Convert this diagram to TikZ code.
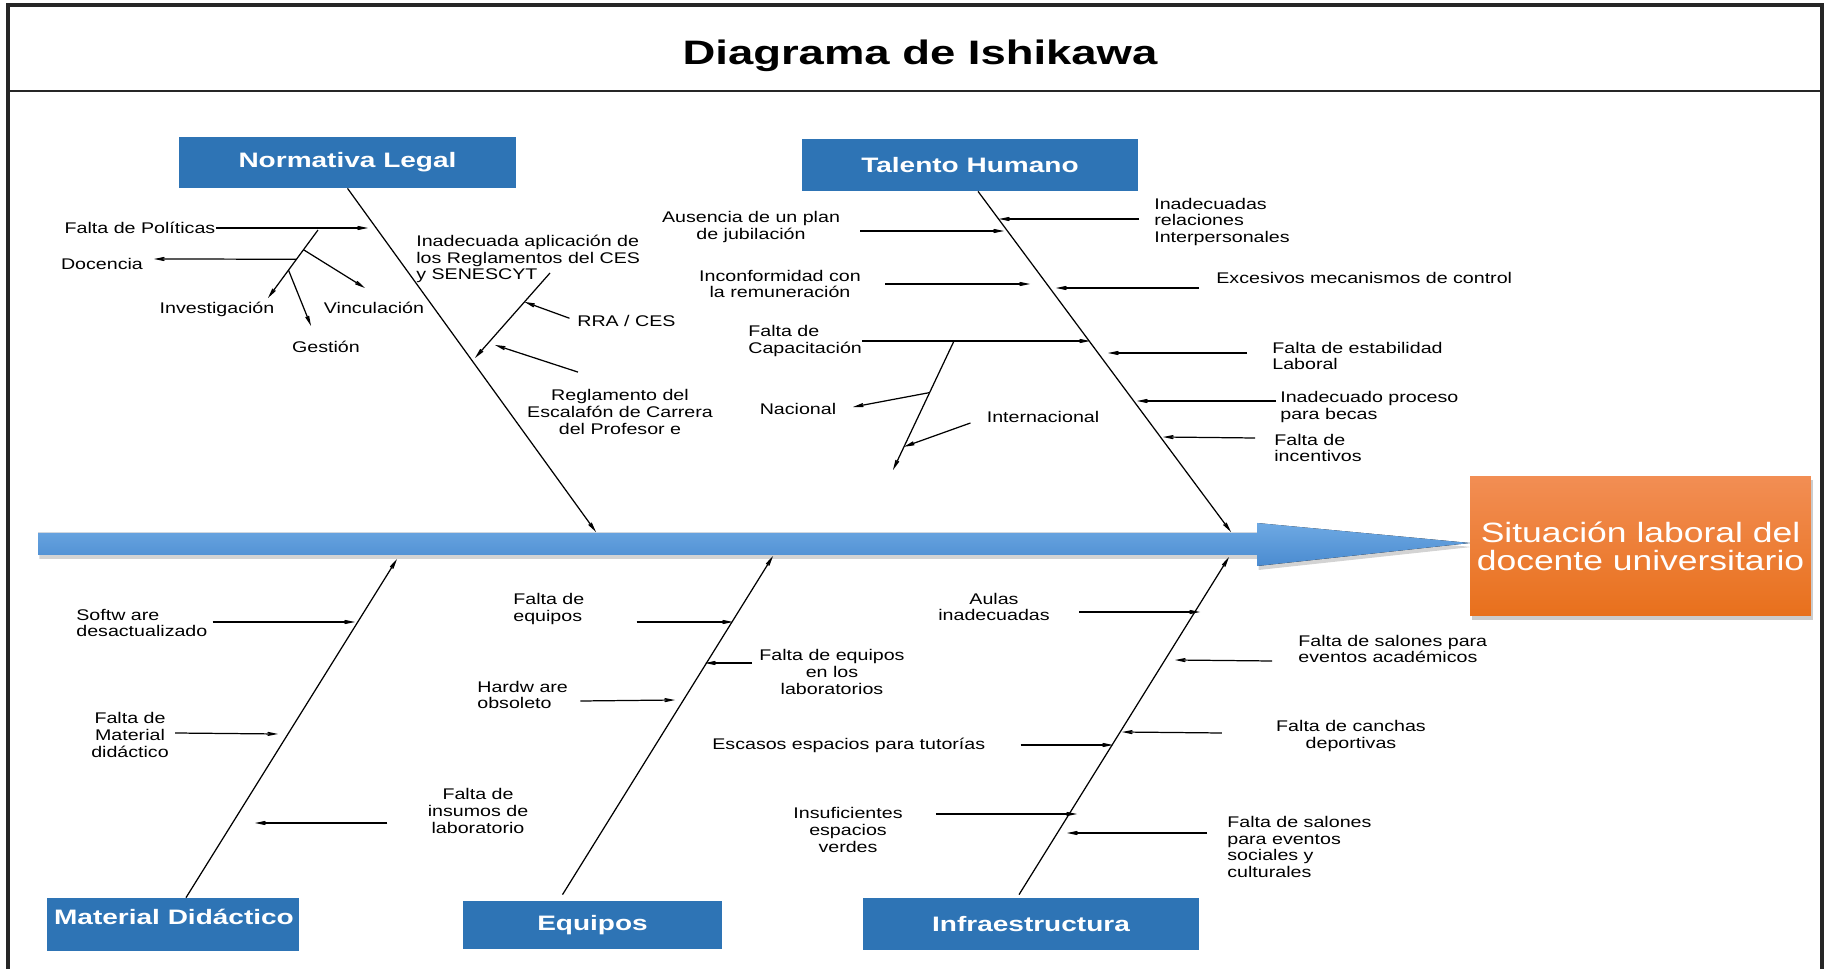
\documentclass[tikz,border=0pt]{standalone}
\usepackage{fontspec}
\setmainfont{Liberation Sans}
\newfontfamily\labelfont[FakeStretch=1.27]{Liberation Sans}
\newfontfamily\headfont[FakeStretch=1.34]{Liberation Sans}
\usepackage{xcolor}
\usepackage{tikz}
\usetikzlibrary{arrows.meta, calc, shadows}
\definecolor{boxblue}{HTML}{2E74B5}
\definecolor{spinetop}{HTML}{6EA9E3}
\definecolor{spinebot}{HTML}{4A8BD0}
\definecolor{effecttop}{HTML}{F28E54}
\definecolor{effectbot}{HTML}{E8701C}

\tikzset{
  causearrow/.style={line width=0.7pt, -{Stealth[length=0.36cm, width=0.15cm, inset=0.2cm]}},
  lbl/.style={font=\labelfont\fontsize{8.8}{9.6}\selectfont, inner sep=0pt, align=left},
  lblc/.style={lbl, align=center},
  catbox/.style={fill=boxblue, text=white, inner sep=0pt, font=\headfont\bfseries\fontsize{11.9}{14}\selectfont},
  effectbox/.style={top color=effecttop, bottom color=effectbot, text=white, align=center,
    minimum width=6.82cm, minimum height=2.8cm, inner sep=0pt,
    font=\labelfont\fontsize{15.9}{16.1}\selectfont,
    drop shadow={opacity=0.4, shadow xshift=0.04cm, shadow yshift=-0.08cm}},
}

\begin{document}
\begin{tikzpicture}[x=0.02cm, y=-0.02cm]
  \useasboundingbox (0,0) rectangle (1830,969);
  % frame and title
  \draw[line width=1.8pt, black!85] (8,969) -- (8,5) -- (1822,5) -- (1822,969);
  \draw[line width=1.5pt, black!85] (8,91) -- (1822,91);
  \node[font=\headfont\bfseries\fontsize{19.3}{22}\selectfont, inner sep=0pt] (title) at (920,56) {Diagrama de Ishikawa};

  % spine
  \fill[top color=spinetop, bottom color=spinebot, drop shadow={opacity=0.35, shadow xshift=0.03cm, shadow yshift=-0.08cm}]
    (38,533) -- (1257,533) -- (1257,523) -- (1470,543) -- (1257,566) -- (1257,555) -- (38,555) -- cycle;

  % effect and categories
  \node[effectbox] (sit) at (1640.5,546) {Situación laboral del\\docente universitario};
  \node[catbox, minimum width=6.74cm, minimum height=1.02cm] (nl) at (347.5,162.5) {Normativa Legal};
  \node[catbox, minimum width=6.72cm, minimum height=1.04cm] (th) at (970,165) {Talento Humano};
  \node[catbox, minimum width=5.04cm, minimum height=1.06cm] (md) at (173,924.5) {};
  \node[catbox] (mdtext) at (174,917) {Material Didáctico};
  \node[catbox, minimum width=5.18cm, minimum height=0.96cm] (eq) at (592.5,925) {Equipos};
  \node[catbox, minimum width=6.72cm, minimum height=1.04cm] (inf) at (1031,924) {Infraestructura};

  % bones
  \coordinate (nlE) at (596,532);
  \coordinate (thE) at (1231,532);
  \coordinate (mdE) at (397,559);
  \coordinate (eqE) at (773,556);
  \coordinate (infE) at (1229,557);
  \draw[causearrow] (nl.south) -- (nlE);
  \draw[causearrow] ($(th.south)+(8,0)$) -- (thE);
  \draw[causearrow] ($(md.north)+(13,0)$) -- (mdE);
  \draw[causearrow] ($(eq.north)+(-30,-6)$) -- (eqE);
  \draw[causearrow] ($(inf.north)+(-12,-3)$) -- (infE);

  % Normativa Legal
  \node[lbl] (pol) at (140,228) {Falta de Políticas};
  \node[lbl] (doc) at (102,264) {Docencia};
  \node[lbl] (inv) at (217,309) {Investigación};
  \node[lbl] (vin) at (374,308) {Vinculación};
  \node[lbl] (ges) at (326,347) {Gestión};
  \node[lbl, anchor=west] (ina) at (416,259) {Inadecuada aplicación de\\los Reglamentos del CES\\y SENESCYT};
  \node[lbl, anchor=west] (rra) at (577,321) {RRA / CES};
  \node[lblc] (reg) at (620,412) {Reglamento del\\Escalafón de Carrera\\del Profesor e};
  \coordinate (polE) at (368,228);
  \coordinate (polA) at (318,230);
  \coordinate (polB) at (268,298);
  \coordinate (vinE) at (365,288);
  \coordinate (docE) at (154,259);
  \coordinate (gesE) at (311,326);
  \coordinate (inaA) at (550,273);
  \coordinate (inaB) at (475,358);
  \coordinate (regE) at (495,345);
  \draw[causearrow] (pol.east) -- (polE);
  \draw[causearrow] (polA) -- (polB);
  \draw[causearrow] ($(polA)!0.29!(polB)$) -- (vinE);
  \draw[causearrow] ($(polA)!0.43!(polB)$) -- (docE);
  \draw[causearrow] ($(polA)!0.59!(polB)$) -- (gesE);
  \draw[causearrow] (inaA) -- (inaB);
  \draw[causearrow, shorten <=0.16cm] (rra.west) -- ($(inaA)!0.34!(inaB)$);
  \draw[causearrow] ($(reg.north)+(-42,-17)$) -- (regE);

  % Talento Humano
  \node[lbl, anchor=west] (rel) at (1154,222) {Inadecuadas\\relaciones\\Interpersonales};
  \node[lblc] (aus) at (751,227) {Ausencia de un plan\\de jubilación};
  \node[lblc] (inc) at (780,284) {Inconformidad con\\la remuneración};
  \node[lbl, anchor=west] (exc) at (1216,278) {Excesivos mecanismos de control};
  \node[lbl, anchor=west] (cap) at (748,341) {Falta de\\Capacitación};
  \node[lbl] (nac) at (798,409) {Nacional};
  \node[lbl] (intl) at (1043,417) {Internacional};
  \node[lbl, anchor=west] (est) at (1272,356) {Falta de estabilidad\\Laboral};
  \node[lbl, anchor=west] (bec) at (1280,407) {Inadecuado proceso\\para becas};
  \node[lbl, anchor=west] (ince) at (1274,448) {Falta de\\incentivos};
  \coordinate (relE) at (999,219);
  \coordinate (ausE) at (1004,231);
  \coordinate (incE) at (1030,284);
  \coordinate (excE) at (1056,288);
  \coordinate (capE) at (1090,341);
  \coordinate (capA) at (954,341);
  \coordinate (capB) at (893,470);
  \coordinate (nacE) at (853,407);
  \coordinate (estE) at (1108,353);
  \coordinate (becE) at (1137,401);
  \coordinate (inceE) at (1163,437);
  \draw[causearrow] ($(rel.west)+(-15,-3)$) -- (relE);
  \draw[causearrow] ($(aus.east)+(20,4)$) -- (ausE);
  \draw[causearrow] ($(inc.east)+(24,0)$) -- (incE);
  \draw[causearrow] ($(exc.west)+(-17,10)$) -- (excE);
  \draw[causearrow] (cap.east) -- (capE);
  \draw[causearrow] (capA) -- (capB);
  \draw[causearrow] ($(capA)!0.4!(capB)$) -- (nacE);
  \draw[causearrow] ($(intl.west)+(-16,6)$) -- ($(capA)!0.82!(capB)$);
  \draw[causearrow] ($(est.west)+(-25,-3)$) -- (estE);
  \draw[causearrow] ($(bec.west)+(-4,-6)$) -- (becE);
  \draw[causearrow] ($(ince.west)+(-19,-10)$) -- (inceE);

  % Material Didactico
  \node[lbl, anchor=west] (sof) at (76,623) {Softw are\\desactualizado};
  \node[lblc] (mat) at (130,735) {Falta de\\Material\\didáctico};
  \node[lblc] (ins) at (478,811) {Falta de\\insumos de\\laboratorio};
  \coordinate (sofE) at (355,622);
  \coordinate (matE) at (278,734);
  \coordinate (insE) at (255,823);
  \draw[causearrow] ($(sof.east)+(5,-1)$) -- (sofE);
  \draw[causearrow] ($(mat.east)+(6,-2)$) -- (matE);
  \draw[causearrow] ($(ins.west)+(-40,12)$) -- (insE);

  % Equipos
  \node[lbl, anchor=west] (feq) at (513,609) {Falta de\\equipos};
  \node[lblc] (lab) at (832,672) {Falta de equipos\\en los\\laboratorios};
  \node[lbl, anchor=west] (hw) at (477,695) {Hardw are\\obsoleto};
  \node[lbl, anchor=west] (tut) at (712,745) {Escasos espacios para tutorías};
  \coordinate (feqE) at (733,622);
  \coordinate (labE) at (705,663);
  \coordinate (hwE) at (675,700);
  \coordinate (tutE) at (1113,745);
  \draw[causearrow] ($(feq.east)+(52,13)$) -- (feqE);
  \draw[causearrow] ($(lab.west)+(-7,-9)$) -- (labE);
  \draw[causearrow] ($(hw.east)+(12,6)$) -- (hwE);
  \draw[causearrow] ($(tut.east)+(35,0)$) -- (tutE);

  % Infraestructura
  \node[lblc] (aul) at (994,607) {Aulas\\inadecuadas};
  \node[lbl, anchor=west] (sal) at (1298,649) {Falta de salones para\\eventos académicos};
  \node[lblc] (can) at (1351,736) {Falta de canchas\\deportivas};
  \node[lblc] (ver) at (848,830) {Insuficientes\\espacios\\verdes};
  \node[lbl, anchor=west] (soc) at (1227,847) {Falta de salones\\para eventos\\sociales y\\culturales};
  \coordinate (aulE) at (1200,612);
  \coordinate (salE) at (1175,660);
  \coordinate (canE) at (1122,732);
  \coordinate (verE) at (1077,814);
  \coordinate (socE) at (1067,833);
  \draw[causearrow] ($(aul.east)+(29,5)$) -- (aulE);
  \draw[causearrow] ($(sal.west)+(-26,12)$) -- (salE);
  \draw[causearrow] ($(can.west)+(-54,-3)$) -- (canE);
  \draw[causearrow] ($(ver.east)+(33,-16)$) -- (verE);
  \draw[causearrow] ($(soc.west)+(-20,-14)$) -- (socE);
\end{tikzpicture}
\end{document}
